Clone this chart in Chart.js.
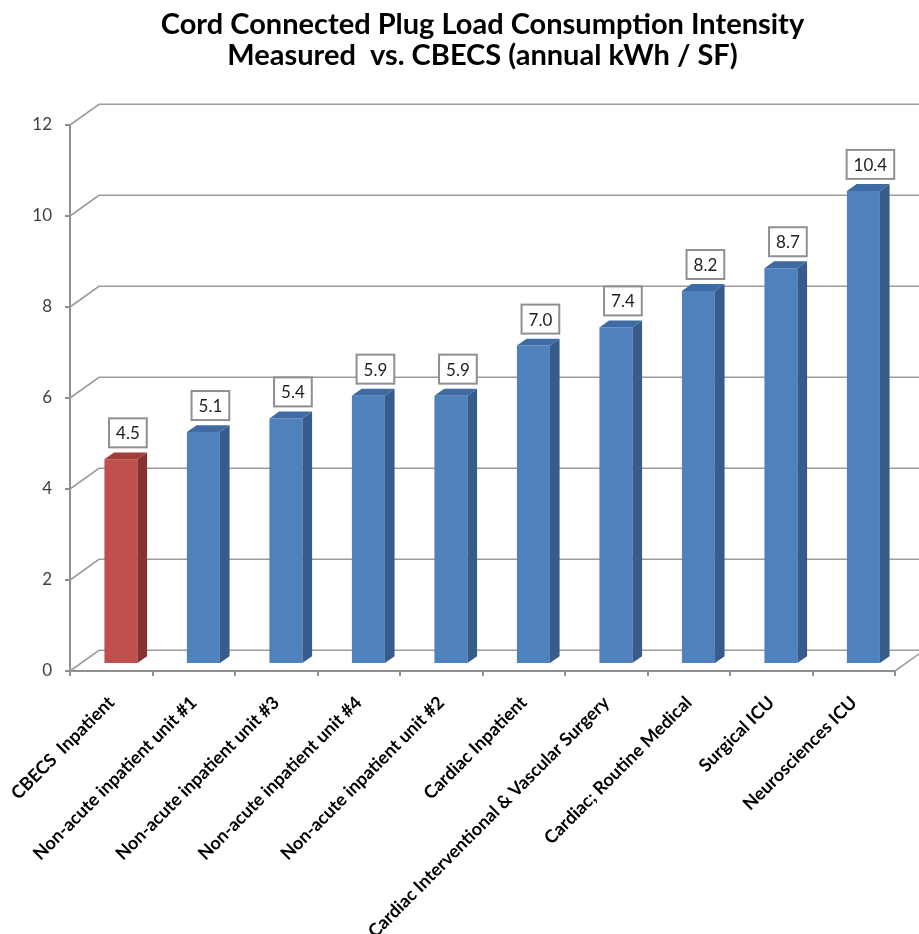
<!DOCTYPE html>
<html>
<head>
<meta charset="utf-8">
<script src="https://cdn.jsdelivr.net/npm/chart.js@4.4.1/dist/chart.umd.min.js"></script>
<style>
  html, body { margin: 0; padding: 0; background: #ffffff; }
  #wrap { width: 919px; height: 934px; }
</style>
</head>
<body>
<div id="wrap"><canvas id="chart" width="919" height="934"></canvas></div>
<script>
// Chart text and values
const titleLines = [
  'Cord Connected Plug Load Consumption Intensity',
  'Measured  vs. CBECS (annual kWh / SF)'
];
const categories = [
  'CBECS  Inpatient',
  'Non-acute inpatient unit #1',
  'Non-acute inpatient unit #3',
  'Non-acute inpatient unit #4',
  'Non-acute inpatient unit #2',
  'Cardiac Inpatient',
  'Cardiac Interventional & Vascular Surgery',
  'Cardiac; Routine Medical',
  'Surgical ICU',
  'Neurosciences ICU'
];
const intensity = [4.5, 5.1, 5.4, 5.9, 5.9, 7.0, 7.4, 8.2, 8.7, 10.4];
const yMin = 0, yMax = 12, yStep = 2;

// Styling
const FONT = 'Lato, "Open Sans", sans-serif';
const AXIS_GREY = '#8f8f8f';
const GRID_GREY = '#9c9c9c';
const PALETTE = {
  baseline: { front: '#C0504D', top: '#A23D3A', side: '#853230' },
  measured: { front: '#4F81BD', top: '#3E6BA3', side: '#375C8C' }
};
const paletteFor = i => (i === 0 ? PALETTE.baseline : PALETTE.measured);

// Oblique depth of the plot box (floor / back wall), in pixels
const DEPTH = { x: 29, y: -20.7 };
const BAR_OFFSET = 1 / 3;   // bars sit a third of the way into the box
const BAR_DEPTH = 1 / 3;    // and are a third of the box deep

const perspective = {
  id: 'perspective',
  beforeDatasetsDraw(chart) {
    const { ctx, chartArea: a, scales: { y } } = chart;
    ctx.save();
    ctx.strokeStyle = GRID_GREY;
    ctx.lineWidth = 1.6;
    y.ticks.forEach(t => {
      const py = y.getPixelForValue(t.value);
      ctx.beginPath();
      ctx.moveTo(a.left, py);
      ctx.lineTo(a.left + DEPTH.x, py + DEPTH.y);
      ctx.lineTo(a.right + DEPTH.x, py + DEPTH.y);
      ctx.stroke();
    });
    const p0 = y.getPixelForValue(yMin);
    ctx.beginPath();
    ctx.moveTo(a.right, p0);
    ctx.lineTo(a.right + DEPTH.x, p0 + DEPTH.y);
    ctx.stroke();
    ctx.restore();
  },
  beforeDatasetDraw(chart) {
    chart.ctx.save();
    chart.ctx.translate(DEPTH.x * BAR_OFFSET, DEPTH.y * BAR_OFFSET);
  },
  afterDatasetDraw(chart, args) {
    const ctx = chart.ctx;
    const dx = DEPTH.x * BAR_DEPTH, dy = DEPTH.y * BAR_DEPTH;
    args.meta.data.forEach((bar, i) => {
      const { x, y, base, width } = bar.getProps(['x', 'y', 'base', 'width'], true);
      const l = x - width / 2, r = x + width / 2;
      const pal = paletteFor(i);
      ctx.fillStyle = pal.side;
      ctx.beginPath();
      ctx.moveTo(r, y);
      ctx.lineTo(r + dx, y + dy);
      ctx.lineTo(r + dx, base + dy);
      ctx.lineTo(r, base);
      ctx.closePath();
      ctx.fill();
      ctx.fillStyle = pal.top;
      ctx.beginPath();
      ctx.moveTo(l, y);
      ctx.lineTo(l + dx, y + dy);
      ctx.lineTo(r + dx, y + dy);
      ctx.lineTo(r, y);
      ctx.closePath();
      ctx.fill();
    });
    ctx.restore();
  },
  afterDatasetsDraw(chart) {
    const ctx = chart.ctx;
    const meta = chart.getDatasetMeta(0);
    const values = chart.data.datasets[0].data;
    ctx.save();
    ctx.font = '17px ' + FONT;
    ctx.textAlign = 'center';
    ctx.textBaseline = 'middle';
    meta.data.forEach((bar, i) => {
      const { x, y } = bar.getProps(['x', 'y'], true);
      const fx = x + DEPTH.x * BAR_OFFSET;
      const fy = y + DEPTH.y * BAR_OFFSET;
      const text = values[i].toFixed(1);
      const w = ctx.measureText(text).width + 14;
      const h = 29;
      const cx = fx + 7;
      const bottom = fy - 12;
      ctx.fillStyle = '#ffffff';
      ctx.fillRect(cx - w / 2, bottom - h, w, h);
      ctx.strokeStyle = AXIS_GREY;
      ctx.lineWidth = 2;
      ctx.strokeRect(cx - w / 2, bottom - h, w, h);
      ctx.fillStyle = '#1e1e1e';
      ctx.fillText(text, cx, bottom - h / 2 + 1);
    });
    ctx.restore();
  }
};

new Chart(document.getElementById('chart'), {
  type: 'bar',
  data: {
    labels: categories,
    datasets: [{
      data: intensity,
      backgroundColor: c => paletteFor(c.dataIndex).front,
      borderWidth: 0,
      barPercentage: 0.4,
      categoryPercentage: 1.0
    }]
  },
  options: {
    responsive: false,
    devicePixelRatio: 1,
    animation: false,
    layout: { padding: { left: 0, right: 24, top: 0, bottom: 0 } },
    plugins: {
      legend: { display: false },
      tooltip: { enabled: false },
      title: {
        display: true,
        fullSize: false,
        text: titleLines,
        color: '#000000',
        font: { family: FONT, size: 29, weight: 'bold', lineHeight: 31 / 29 },
        padding: { top: 9, bottom: 54 }
      }
    },
    scales: {
      x: {
        afterFit: s => { s.height = 263; s.paddingLeft = 0; s.paddingRight = 0; },
        grid: { drawOnChartArea: false, offset: true, tickLength: 5, color: AXIS_GREY, lineWidth: 2 },
        border: { color: AXIS_GREY, width: 2 },
        ticks: {
          autoSkip: false,
          minRotation: 45,
          maxRotation: 45,
          padding: 16,
          color: '#000000',
          font: { family: FONT, size: 18, weight: 'bold' }
        }
      },
      y: {
        min: yMin,
        max: yMax,
        afterFit: s => { s.width = 70; },
        grid: { drawOnChartArea: false, tickLength: 5, color: AXIS_GREY, lineWidth: 2 },
        border: { color: AXIS_GREY, width: 2 },
        ticks: {
          stepSize: yStep,
          padding: 13,
          color: '#404040',
          font: { family: FONT, size: 17 }
        }
      }
    }
  },
  plugins: [perspective]
});
</script>
</body>
</html>
